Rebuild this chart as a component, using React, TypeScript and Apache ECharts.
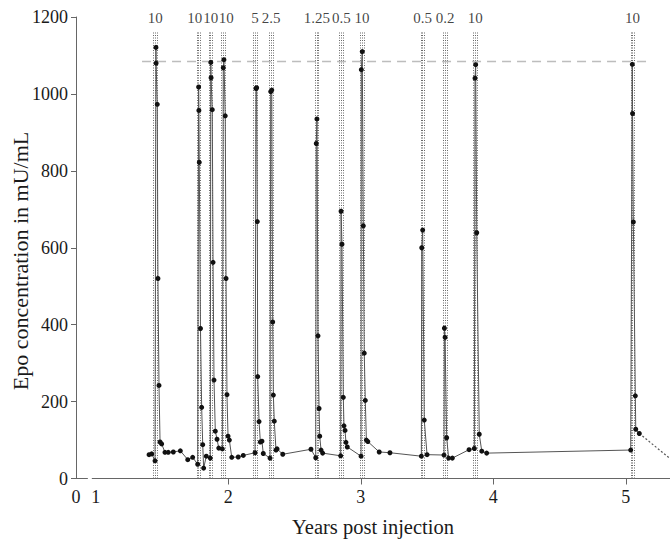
import React, { useEffect, useRef } from "react";
import * as echarts from "echarts";

// axis extent (years): left edge is the "0" position of the broken axis
const X_MIN = 0.8506;
const X_MAX = 5.3336;

// measured time points (years post injection) and Epo concentration (mU/mL)
const years = [
  1.402, 1.422, 1.447, 1.454, 1.455, 1.464, 1.469, 1.477, 1.485, 1.497,
  1.522, 1.547, 1.585, 1.638, 1.694, 1.731, 1.769,
  1.776, 1.778, 1.781, 1.79, 1.799, 1.807, 1.814, 1.834, 1.864,
  1.868, 1.87, 1.879, 1.885, 1.892, 1.902, 1.915, 1.928, 1.955,
  1.962, 1.967, 1.977, 1.983, 1.99, 1.998, 2.008, 2.026, 2.075, 2.113, 2.202,
  2.209, 2.214, 2.219, 2.222, 2.232, 2.242, 2.254, 2.264, 2.315,
  2.32, 2.328, 2.335, 2.34, 2.347, 2.36, 2.368, 2.411, 2.624, 2.66,
  2.664, 2.669, 2.677, 2.685, 2.69, 2.7, 2.712, 2.848,
  2.851, 2.858, 2.868, 2.873, 2.881, 2.888, 2.898, 3.002,
  3.004, 3.011, 3.019, 3.026, 3.034, 3.042, 3.053, 3.139, 3.22, 3.457,
  3.46, 3.467, 3.479, 3.5, 3.628,
  3.631, 3.636, 3.648, 3.663, 3.691, 3.817, 3.857,
  3.862, 3.867, 3.875, 3.894, 3.913, 3.95, 5.037,
  5.049, 5.051, 5.057, 5.072, 5.075, 5.102,
];
const epo = [
  62, 64, 46, 1121, 1080, 973, 520, 242, 95, 90,
  68, 68, 69, 72, 49, 55, 37,
  1018, 957, 822, 390, 185, 88, 27, 58, 53,
  1082, 1042, 959, 562, 256, 123, 102, 79, 77,
  1068, 1089, 943, 520, 218, 110, 100, 55, 56, 60, 67,
  1014, 1016, 668, 265, 148, 95, 97, 65, 53,
  1006, 1010, 407, 217, 149, 74, 77, 63, 76, 54,
  871, 935, 371, 182, 110, 74, 66, 59,
  695, 609, 211, 137, 125, 94, 82, 58,
  1063, 1110, 657, 326, 203, 100, 96, 69, 67, 58,
  600, 646, 152, 62, 61,
  391, 367, 106, 53, 53, 75, 78,
  1041, 1076, 639, 115, 71, 66, 74,
  1077, 949, 667, 215, 128, 117,
];

// projected decay after the last measurement (dotted)
const projYears = [5.102, 5.3336];
const projEpo = [117, 52];

// injections and their doses
const injYears = [1.449, 1.777, 1.867, 1.962, 2.202, 2.324, 2.669, 2.853, 3.009, 3.466, 3.636, 3.863, 5.051];
const doseLabels = ["10", "10", "10", "10", "5", "2.5", "1.25", "0.5", "10", "0.5", "0.2", "10", "10"];
const doseLabelShift = [0, -4, 0, 3, 0, 0, 0, 0, 0, 0, 0, 0, 0];

// reference level (dashed) and marker heights
const refLevel = 1085;
const refStart = 1.349;
const refEnd = 5.1675;
const injTop = 1161;
const labelLevel = 1200;

// axes
const yTicks = [0, 200, 400, 600, 800, 1000, 1200];
const xTickYears = [2, 3, 4, 5];
const xLabelYears = [X_MIN, 1, 2, 3, 4, 5];
const axisBreak = [0.94, 0.97];

const FONT = '"Liberation Serif", "DejaVu Serif", serif';

export default function App() {
  const ref = useRef<HTMLDivElement>(null);

  useEffect(() => {
    if (!ref.current) return;
    const chart = echarts.init(ref.current, null, { renderer: "svg" });

    const offsets = [-0.0135, 0, 0.0135];
    const injLines: any[] = [];
    injYears.forEach((x) => {
      offsets.forEach((o) => {
        injLines.push([
          { coord: [x + o, 0], lineStyle: { type: [1, 1.5], color: "#6a6a6a", width: 1 } },
          { coord: [x + o, injTop] },
        ]);
      });
    });

    const axisColor = "#666";
    const seg = (a: number[], b: number[]) => [
      { coord: a, lineStyle: { type: "solid", color: axisColor, width: 1 } },
      { coord: b },
    ];
    const axisSegs: any[] = [
      seg([X_MIN, 0], [axisBreak[0], 0]),
      seg([axisBreak[1], 0], [X_MAX, 0]),
      seg([axisBreak[0], -9], [axisBreak[0], 9]),
      seg([axisBreak[1], -9], [axisBreak[1], 9]),
    ];

    const refLine = [
      [
        { coord: [refStart, refLevel], lineStyle: { type: [9, 6], color: "#bdbdbd", width: 1.3 } },
        { coord: [refEnd, refLevel] },
      ],
    ];

    chart.setOption({
      animation: false,
      backgroundColor: "#ffffff",
      textStyle: { fontFamily: FONT },
      grid: { left: 76, right: 0, top: 17, bottom: 61.5, containLabel: false },
      xAxis: {
        type: "value",
        min: X_MIN,
        max: X_MAX,
        axisLine: { show: false },
        splitLine: { show: false },
        axisTick: {
          show: true,
          customValues: xTickYears,
          length: 6,
          lineStyle: { color: axisColor },
        },
        axisLabel: {
          customValues: xLabelYears,
          formatter: (v: number) => (v < 0.95 ? "0" : String(Math.round(v))),
          fontSize: 18,
          color: "#1a1a1a",
          margin: 9,
          fontFamily: FONT,
        },
      },
      yAxis: {
        type: "value",
        min: 0,
        max: 1200,
        interval: 200,
        axisLine: { show: true, lineStyle: { color: axisColor } },
        axisTick: { show: true, length: 5, lineStyle: { color: axisColor } },
        splitLine: { show: false },
        axisLabel: {
          customValues: yTicks,
          formatter: (v: number) => String(v),
          fontSize: 18,
          color: "#1a1a1a",
          margin: 8,
          fontFamily: FONT,
        },
      },
      graphic: [
        {
          type: "text",
          x: 20,
          y: 261,
          rotation: Math.PI / 2,
          style: {
            text: "Epo concentration in mU/mL",
            fontSize: 22,
            fontFamily: FONT,
            fill: "#1a1a1a",
            align: "center",
            verticalAlign: "middle",
          },
        },
        {
          type: "text",
          x: 373,
          y: 527,
          style: {
            text: "Years post injection",
            fontSize: 20.5,
            fontFamily: FONT,
            fill: "#1a1a1a",
            align: "center",
            verticalAlign: "middle",
          },
        },
      ],
      series: [
        {
          type: "line",
          data: projYears.map((x, i) => [x, projEpo[i]]),
          symbol: "none",
          lineStyle: { type: [2, 2], color: "#555", width: 1.2 },
          z: 2,
          markLine: {
            silent: true,
            symbol: ["none", "none"],
            label: { show: false },
            data: [...injLines, ...refLine, ...axisSegs],
          },
        },
        {
          type: "line",
          data: years.map((x, i) => [x, epo[i]]),
          symbol: "circle",
          symbolSize: 5,
          itemStyle: { color: "#111" },
          lineStyle: { color: "#555", width: 1 },
          z: 5,
        },
        {
          type: "scatter",
          data: injYears.map((x, i) => ({
            value: [x, labelLevel],
            label: { offset: [doseLabelShift[i], 1] },
          })),
          symbolSize: 0.1,
          itemStyle: { color: "rgba(0,0,0,0)" },
          label: {
            show: true,
            position: "inside",
            formatter: (p: any) => doseLabels[p.dataIndex],
            fontSize: 15,
            color: "#111",
            fontFamily: FONT,
          },
          z: 6,
        },
      ],
    });

    return () => chart.dispose();
  }, []);

  return (
    <div
      ref={ref}
      style={{ position: "fixed", left: 0, top: 0, width: 670, height: 540, background: "#fff" }}
    />
  );
}
